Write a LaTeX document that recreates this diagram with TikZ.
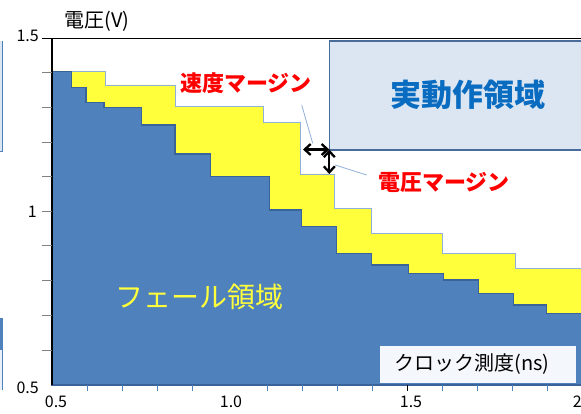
\documentclass[tikz,border=0pt]{standalone}
\usepackage{fontspec}
\setmainfont{Noto Sans CJK JP}
\usetikzlibrary{arrows.meta}
\tikzset{>={Straight Barb[length=6pt,width=11pt]}}
\definecolor{failblue}{HTML}{4F81BD}
\definecolor{faildark}{HTML}{3A6399}
\definecolor{margyel}{HTML}{FFFF3C}
\definecolor{margline}{HTML}{8FB0D8}
\definecolor{boxfill}{HTML}{DCE6F2}
\definecolor{boxline}{HTML}{4A6C9B}
\definecolor{boxtext}{HTML}{0A6CC0}
\definecolor{margred}{HTML}{FF0000}

\begin{document}
\begin{tikzpicture}[x=1pt,y=-1pt,font=\fontsize{16}{18}\selectfont]
\tikzstyle{margin}=[text=margred,font=\bfseries\fontsize{22}{24}\selectfont,inner sep=0]
\tikzstyle{ylab}=[anchor=east,inner sep=0]
\tikzstyle{xlab}=[inner sep=0]
\tikzstyle{leader}=[margline,line width=0.8]
\tikzstyle{dim}=[<->,line width=2.3,black]
    \useasboundingbox (0,0) rectangle (581,414);

    % cut-off parts at the left edge
    \fill[boxfill] (-1,41.5) rectangle (2.5,151.5);
    \draw[failblue,line width=0.8] (2.5,41.5) -- (2.5,151.5) -- (-1,151.5);
    \fill[failblue] (-1,318) rectangle (2.5,350);
    \fill[boxfill!60!white] (-1,350) rectangle (2.5,390);
    \draw[failblue,line width=0.8] (2.5,318) -- (2.5,390);

    % operating region
    \node[draw=boxline,fill=boxfill,line width=1.3,minimum width=260,minimum height=109,anchor=north west,inner sep=0] (op) at (329,40.5){};
    \node[text=boxtext,font=\bfseries\fontsize{31}{33}\selectfont,inner sep=0] (optext) at (468,95){実動作領域};

    % margin (yellow)
    \draw[margline,fill=margyel,line width=0.7] (52,71) -- (105,71) -- (105,85) -- (175,85) -- (175,106.7) -- (263,106.7) -- (263,122.5) -- (300,122.5) -- (300,174) -- (334.5,174) -- (334.5,208.3) -- (371.7,208.3) -- (371.7,233.3) -- (442.3,233.3) -- (442.3,253.3) -- (515,253.3) -- (515,268.3) -- (590,268.3) -- (590,385) -- (52,385) -- cycle;

    % fail region (blue)
    \draw[faildark,fill=failblue,line width=1.3] (52,71.7) -- (71.7,71.7) -- (71.7,87.3) -- (86,87.3) -- (86,102.7) -- (104,102.7) -- (104,107.3) -- (141.7,107.3) -- (141.7,125) -- (175,125) -- (175,154) -- (210.7,154) -- (210.7,176.5) -- (269.5,176.5) -- (269.5,210) -- (301.7,210) -- (301.7,226.7) -- (336.7,226.7) -- (336.7,253.3) -- (371.7,253.3) -- (371.7,265) -- (408.3,265) -- (408.3,273.3) -- (443.3,273.3) -- (443.3,280) -- (478.3,280) -- (478.3,293.3) -- (513.3,293.3) -- (513.3,305) -- (546.7,305) -- (546.7,313.3) -- (590,313.3) -- (590,385) -- (52,385) -- cycle;

    % axes
    \draw[black,line width=1.3] (52,385) -- (52,38.5) -- (590,38.5);
    \draw[black,line width=0.9] (42,38.5) -- (52,38.5);
    \foreach \y in {72,107,142,176,211,245,280,315,350}
        \draw[gray,line width=0.9] (42,\y) -- (52,\y);
    \foreach \x in {87,122,157,192,267,302,337,372,442,477,512,547}
        \draw[failblue,line width=0.9] (\x,385) -- (\x,391);
    \draw[black,line width=0.9] (407,385) -- (407,391);

    \node[font=\fontsize{20}{22}\selectfont,inner sep=0] (vlab) at (97,21){電圧(V)};
    \node[ylab] (y15) at (39,36){1.5};
    \node[ylab] (y10) at (37,212){1};
    \node[ylab] (y05) at (39,388){0.5};
    \node[xlab] (x05) at (56,402){0.5};
    \node[xlab] (x10) at (231,402){1.0};
    \node[xlab] (x15) at (411,402){1.5};
    \node[xlab] (x20) at (584,402){2.0};

    \node[text=margyel,font=\fontsize{28}{30}\selectfont,inner sep=0] (fail) at (199,297){フェール領域};
    \node[fill=white!94!failblue,minimum width=196,minimum height=37,anchor=north west,inner sep=0] (nsbox) at (380,345.5){};
    \node[font=\fontsize{20}{22}\selectfont,inner sep=0] (nslab) at (472,364){クロック測度(ns)};

    % margins
    \node[margin] (speed) at (246,83){速度マージン};
    \node[margin] (volt) at (444,182){電圧マージン};
    \coordinate (sfrom) at (301.7,105);
    \coordinate (sto) at (312.7,143.3);
    \coordinate (vfrom) at (366.7,175);
    \coordinate (vto) at (335,165);
    \draw[leader] (sfrom) -- (sto);
    \draw[leader] (vfrom) -- (vto);

    \coordinate (hl) at (303,149.5);
    \coordinate (corner) at (329.3,149.5);
    \coordinate (vb) at (329.3,174);
    \draw[dim] (hl) -- (corner);
    \draw[dim] (corner) -- (vb);

\end{tikzpicture}
\end{document}
